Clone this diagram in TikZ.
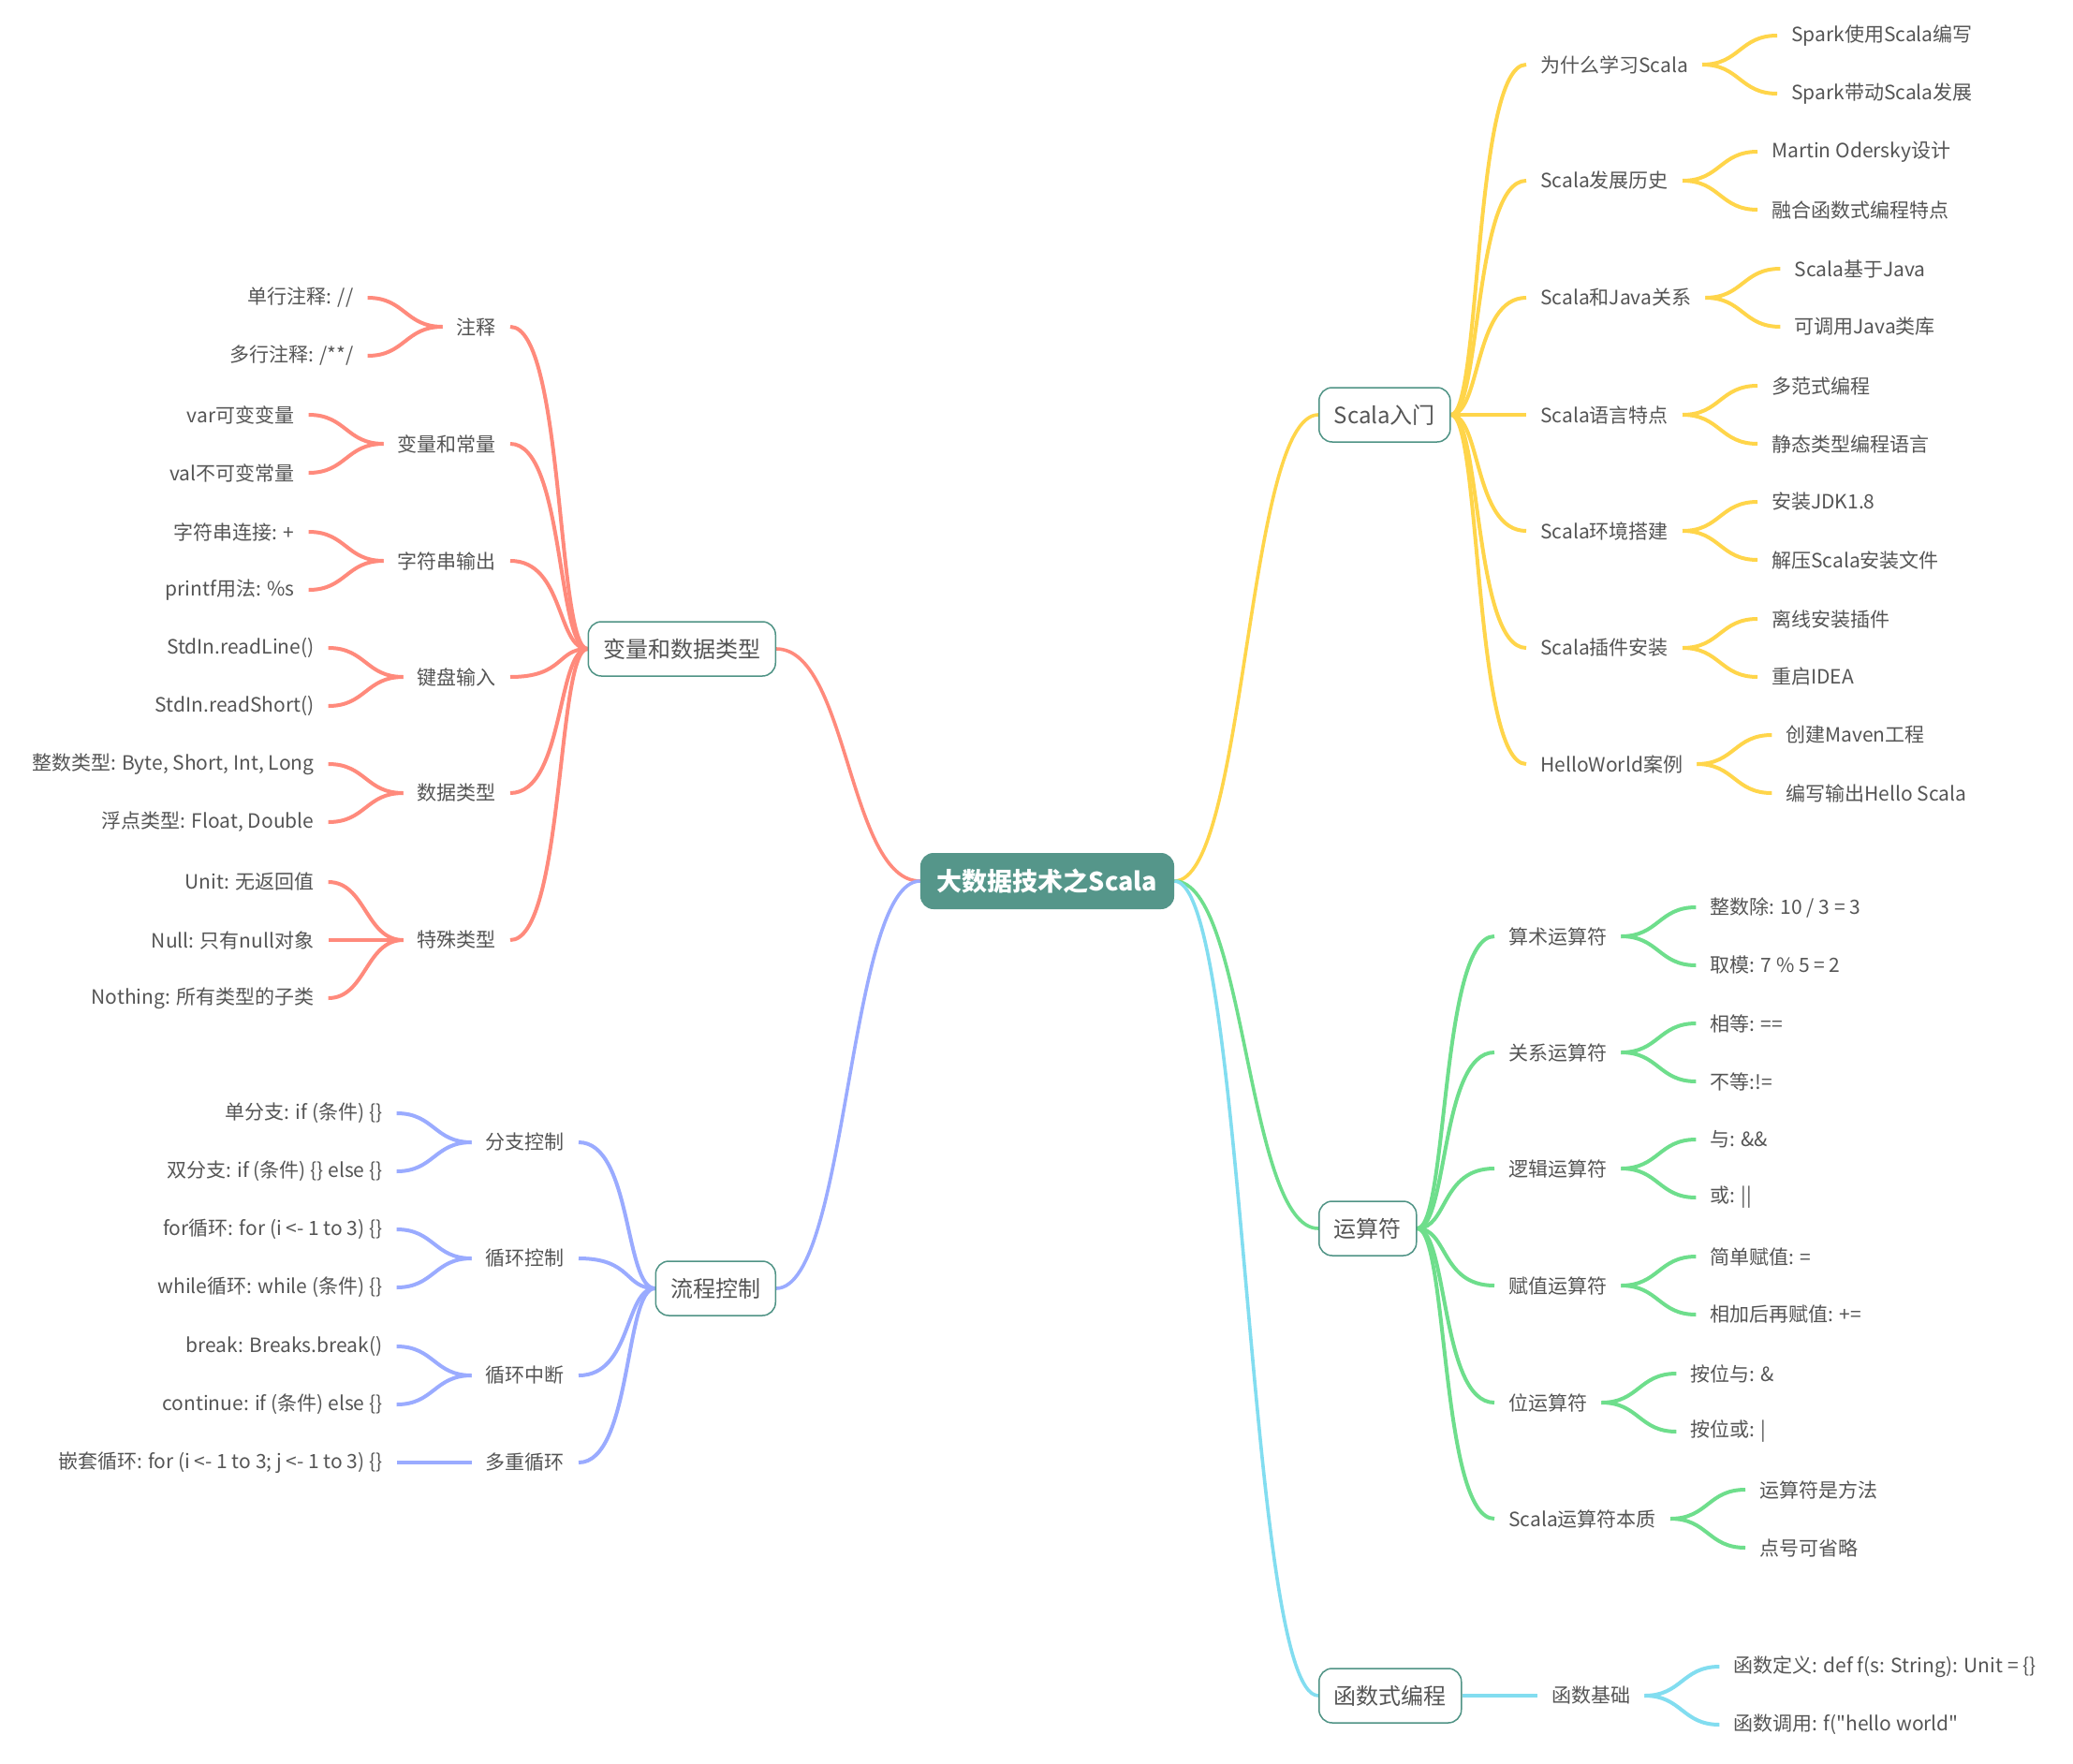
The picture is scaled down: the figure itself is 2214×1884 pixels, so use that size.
\documentclass[tikz,border=0pt]{standalone}
\usepackage{fontspec}
\setmainfont{Noto Sans CJK SC}[Ligatures=TeXOff]
\usetikzlibrary{calc,backgrounds}
\definecolor{cy}{HTML}{FFD54A}
\definecolor{cr}{HTML}{FF8A7C}
\definecolor{cb}{HTML}{9AABFF}
\definecolor{cg}{HTML}{6EDE8C}
\definecolor{cc}{HTML}{82DDF0}
\definecolor{rootc}{HTML}{55968A}
\definecolor{boxc}{HTML}{4F9385}
\definecolor{txt}{HTML}{555555}
\newcommand\conn[5]{\draw[#1] let \p1=(#2), \p2=(#3) in (\p1) .. controls ({\x1+#4*(\x2-\x1)},\y1) and ({\x1+#5*(\x2-\x1)},\y2) .. (\p2);}
\begin{document}
\begin{tikzpicture}[x=1pt,y=-1pt,
 every node/.style={text=txt},
 root/.style={rectangle,rounded corners=14pt,fill=rootc,text=white,font=\fontsize{27}{32}\selectfont\bfseries,inner xsep=18pt,minimum height=60pt},
 mainbox/.style={rectangle,rounded corners=14pt,draw=boxc,line width=1.5pt,fill=white,font=\fontsize{24}{29}\selectfont,inner xsep=16pt,minimum height=58pt},
 sub/.style={font=\fontsize{21}{25}\selectfont,inner xsep=15pt,inner ysep=3pt},
 lnk/.style={line width=4pt},
 rlnk/.style={line width=3.6pt}]
\useasboundingbox (0,0) rectangle (2214,1884);

% root and main branches
\node[root] (root) at (1118.5,941) {大数据技术之Scala};
\node[mainbox,anchor=west] (m1) at (1408,443) {Scala入门};
\node[mainbox,anchor=west] (m2) at (1408,1312) {运算符};
\node[mainbox,anchor=west] (m3) at (1408,1811) {函数式编程};
\node[mainbox,anchor=east] (m4) at (829,693) {变量和数据类型};
\node[mainbox,anchor=east] (m5) at (829,1376) {流程控制};

% yellow
\node[sub,anchor=west] (y1) at (1630,69) {为什么学习Scala};
\node[sub,anchor=west] (y2) at (1630,193) {Scala发展历史};
\node[sub,anchor=west] (y3) at (1630,318) {Scala和Java关系};
\node[sub,anchor=west] (y4) at (1630,443) {Scala语言特点};
\node[sub,anchor=west] (y5) at (1630,567) {Scala环境搭建};
\node[sub,anchor=west] (y6) at (1630,692) {Scala插件安装};
\node[sub,anchor=west] (y7) at (1630,816) {HelloWorld案例};
\node[sub,anchor=west] (ya1) at ($(y1.east)+(80,-31)$) {Spark使用Scala编写};
\node[sub,anchor=west] (yb1) at ($(y1.east)+(80,31)$) {Spark带动Scala发展};
\node[sub,anchor=west] (ya2) at ($(y2.east)+(80,-31)$) {Martin Odersky设计};
\node[sub,anchor=west] (yb2) at ($(y2.east)+(80,31)$) {融合函数式编程特点};
\node[sub,anchor=west] (ya3) at ($(y3.east)+(80,-31)$) {Scala基于Java};
\node[sub,anchor=west] (yb3) at ($(y3.east)+(80,31)$) {可调用Java类库};
\node[sub,anchor=west] (ya4) at ($(y4.east)+(80,-31)$) {多范式编程};
\node[sub,anchor=west] (yb4) at ($(y4.east)+(80,31)$) {静态类型编程语言};
\node[sub,anchor=west] (ya5) at ($(y5.east)+(80,-31)$) {安装JDK1.8};
\node[sub,anchor=west] (yb5) at ($(y5.east)+(80,31)$) {解压Scala安装文件};
\node[sub,anchor=west] (ya6) at ($(y6.east)+(80,-31)$) {离线安装插件};
\node[sub,anchor=west] (yb6) at ($(y6.east)+(80,31)$) {重启IDEA};
\node[sub,anchor=west] (ya7) at ($(y7.east)+(80,-31)$) {创建Maven工程};
\node[sub,anchor=west] (yb7) at ($(y7.east)+(80,31)$) {编写输出Hello Scala};

% green
\node[sub,anchor=west] (g1) at (1596,1000) {算术运算符};
\node[sub,anchor=west] (g2) at (1596,1124) {关系运算符};
\node[sub,anchor=west] (g3) at (1596,1248) {逻辑运算符};
\node[sub,anchor=west] (g4) at (1596,1373) {赋值运算符};
\node[sub,anchor=west] (g5) at (1596,1498) {位运算符};
\node[sub,anchor=west] (g6) at (1596,1622) {Scala运算符本质};
\node[sub,anchor=west] (ga1) at ($(g1.east)+(80,-31)$) {整数除: 10 / 3 = 3};
\node[sub,anchor=west] (gb1) at ($(g1.east)+(80,31)$) {取模: 7 \% 5 = 2};
\node[sub,anchor=west] (ga2) at ($(g2.east)+(80,-31)$) {相等: ==};
\node[sub,anchor=west] (gb2) at ($(g2.east)+(80,31)$) {不等:!=};
\node[sub,anchor=west] (ga3) at ($(g3.east)+(80,-31)$) {与: \&\&};
\node[sub,anchor=west] (gb3) at ($(g3.east)+(80,31)$) {或: ||};
\node[sub,anchor=west] (ga4) at ($(g4.east)+(80,-31)$) {简单赋值: =};
\node[sub,anchor=west] (gb4) at ($(g4.east)+(80,31)$) {相加后再赋值: +=};
\node[sub,anchor=west] (ga5) at ($(g5.east)+(80,-31)$) {按位与: \&};
\node[sub,anchor=west] (gb5) at ($(g5.east)+(80,31)$) {按位或: |};
\node[sub,anchor=west] (ga6) at ($(g6.east)+(80,-31)$) {运算符是方法};
\node[sub,anchor=west] (gb6) at ($(g6.east)+(80,31)$) {点号可省略};

% cyan
\node[sub,anchor=west] (c1) at (1642,1811) {函数基础};
\node[sub,anchor=west] (ca1) at ($(c1.east)+(80,-31)$) {函数定义: def f(s: String): Unit = \{\}};
\node[sub,anchor=west] (cb1) at ($(c1.east)+(80,31)$) {函数调用: f("hello world"};

% red
\node[sub,anchor=east] (r1) at (545,349) {注释};
\node[sub,anchor=east] (r2) at (545,474) {变量和常量};
\node[sub,anchor=east] (r3) at (545,599) {字符串输出};
\node[sub,anchor=east] (r4) at (545,723) {键盘输入};
\node[sub,anchor=east] (r5) at (545,847) {数据类型};
\node[sub,anchor=east] (r6) at (545,1004) {特殊类型};
\node[sub,anchor=east] (ra1) at ($(r1.west)+(-80,-31)$) {单行注释: //};
\node[sub,anchor=east] (rb1) at ($(r1.west)+(-80,31)$) {多行注释: /**/};
\node[sub,anchor=east] (ra2) at ($(r2.west)+(-80,-31)$) {var可变变量};
\node[sub,anchor=east] (rb2) at ($(r2.west)+(-80,31)$) {val不可变常量};
\node[sub,anchor=east] (ra3) at ($(r3.west)+(-80,-31)$) {字符串连接: +};
\node[sub,anchor=east] (rb3) at ($(r3.west)+(-80,31)$) {printf用法: \%s};
\node[sub,anchor=east] (ra4) at ($(r4.west)+(-80,-31)$) {StdIn.readLine()};
\node[sub,anchor=east] (rb4) at ($(r4.west)+(-80,31)$) {StdIn.readShort()};
\node[sub,anchor=east] (ra5) at ($(r5.west)+(-80,-31)$) {整数类型: Byte, Short, Int, Long};
\node[sub,anchor=east] (rb5) at ($(r5.west)+(-80,31)$) {浮点类型: Float, Double};
\node[sub,anchor=east] (ra6) at ($(r6.west)+(-80,-62)$) {Unit: 无返回值};
\node[sub,anchor=east] (rc6) at ($(r6.west)+(-80,0)$) {Null: 只有null对象};
\node[sub,anchor=east] (rb6) at ($(r6.west)+(-80,62)$) {Nothing: 所有类型的子类};

% blue
\node[sub,anchor=east] (b1) at (618,1220) {分支控制};
\node[sub,anchor=east] (b2) at (618,1344) {循环控制};
\node[sub,anchor=east] (b3) at (618,1469) {循环中断};
\node[sub,anchor=east] (b4) at (618,1562) {多重循环};
\node[sub,anchor=east] (ba1) at ($(b1.west)+(-80,-31)$) {单分支: if (条件) \{\}};
\node[sub,anchor=east] (bb1) at ($(b1.west)+(-80,31)$) {双分支: if (条件) \{\} else \{\}};
\node[sub,anchor=east] (ba2) at ($(b2.west)+(-80,-31)$) {for循环: for (i <- 1 to 3) \{\}};
\node[sub,anchor=east] (bb2) at ($(b2.west)+(-80,31)$) {while循环: while (条件) \{\}};
\node[sub,anchor=east] (ba3) at ($(b3.west)+(-80,-31)$) {break: Breaks.break()};
\node[sub,anchor=east] (bb3) at ($(b3.west)+(-80,31)$) {continue: if (条件) else \{\}};
\node[sub,anchor=east] (ba4) at ($(b4.west)+(-80,0)$) {嵌套循环: for (i <- 1 to 3; j <- 1 to 3) \{\}};

\begin{scope}[on background layer]
\fill[white] (0,0) rectangle (2214,1884);
% root connectors
\conn{rlnk,draw=cy}{root.east}{m1.west}{0.5}{0.5}
\conn{rlnk,draw=cg}{root.east}{m2.west}{0.5}{0.5}
\conn{rlnk,draw=cc}{root.east}{m3.west}{0.5}{0.5}
\conn{rlnk,draw=cr}{root.west}{m4.east}{0.5}{0.5}
\conn{rlnk,draw=cb}{root.west}{m5.east}{0.5}{0.5}
% yellow
\foreach \i in {1,...,7}{
 \conn{lnk,draw=cy}{m1.east}{y\i.west}{0.4}{0.3}
 \conn{lnk,draw=cy}{y\i.east}{ya\i.west}{0.5}{0.5}
 \conn{lnk,draw=cy}{y\i.east}{yb\i.west}{0.5}{0.5}
}
% green
\foreach \i in {1,...,6}{
 \conn{lnk,draw=cg}{m2.east}{g\i.west}{0.4}{0.3}
 \conn{lnk,draw=cg}{g\i.east}{ga\i.west}{0.5}{0.5}
 \conn{lnk,draw=cg}{g\i.east}{gb\i.west}{0.5}{0.5}
}
% cyan
\draw[lnk,draw=cc] (m3.east) -- (c1.west);
\conn{lnk,draw=cc}{c1.east}{ca1.west}{0.5}{0.5}
\conn{lnk,draw=cc}{c1.east}{cb1.west}{0.5}{0.5}
% red
\foreach \i in {1,...,6}{
 \conn{lnk,draw=cr}{m4.west}{r\i.east}{0.4}{0.3}
 \conn{lnk,draw=cr}{r\i.west}{ra\i.east}{0.5}{0.5}
 \conn{lnk,draw=cr}{r\i.west}{rb\i.east}{0.5}{0.5}
}
\draw[lnk,draw=cr] (r6.west) -- (rc6.east);
% blue
\foreach \i in {1,...,4}{
 \conn{lnk,draw=cb}{m5.west}{b\i.east}{0.4}{0.3}
 \conn{lnk,draw=cb}{b\i.west}{ba\i.east}{0.5}{0.5}
}
\foreach \i in {1,...,3}{
 \conn{lnk,draw=cb}{b\i.west}{bb\i.east}{0.5}{0.5}
}
\end{scope}
\end{tikzpicture}
\end{document}
